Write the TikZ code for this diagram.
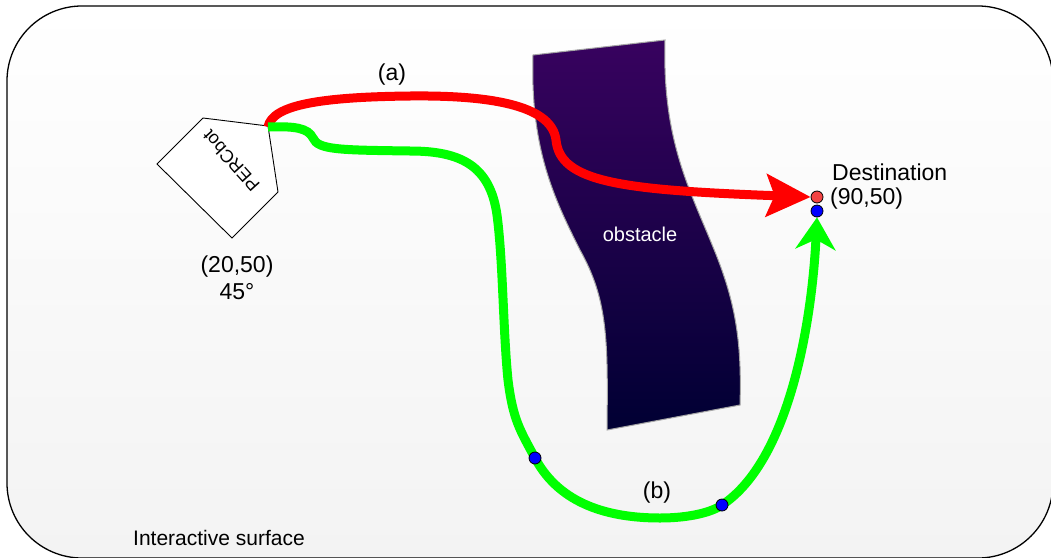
\documentclass[tikz,border=0pt]{standalone}
\usepackage{fontspec}
\setmainfont{Liberation Sans}
\usetikzlibrary{arrows.meta}
\definecolor{obsTop}{HTML}{38025F}
\definecolor{obsBot}{HTML}{000033}
\definecolor{surfBot}{HTML}{F3F3F3}
\definecolor{dotRed}{HTML}{F24444}
\pgfdeclarelayer{front}
\pgfsetlayers{main,front}
\tikzset{
  lbl/.style={font=\fontsize{23}{27}\selectfont, inner sep=0pt},
  waypt/.style={circle, draw=black, line width=0.8pt, minimum size=12pt, inner sep=0pt},
  trajA/.style={red, line width=9pt, -{Stealth[length=44pt,width=42pt,inset=8pt]}},
  trajB/.style={green, line width=9pt, -{Stealth[length=32pt,width=40pt,inset=10pt]}},
}
\begin{document}
\begin{tikzpicture}[x=1pt, y=-1pt]
  \useasboundingbox (0,0) rectangle (1051,557);
  % Surface
  \shadedraw[top color=white, bottom color=surfBot, draw=black, line width=1.3pt, rounded corners=75pt] (7,6) rectangle (1053,558);
  \node[lbl, font=\fontsize{21}{25}\selectfont, anchor=west] (surface) at (133,538) {Interactive surface};

  % Obstacle
  \shadedraw[top color=obsTop, bottom color=obsBot, draw=gray!70, line width=1pt]
    (533,55) -- (665,40) .. controls (662,140) and (690,190) .. (713,247)
    .. controls (735,300) and (742,340) .. (740,405) -- (607,430)
    .. controls (608,340) and (608,300) .. (580,250)
    .. controls (555,200) and (530,150) .. (533,55) -- cycle;
  \node[lbl, font=\fontsize{20}{24}\selectfont, white] (obs) at (640,234) {obstacle};

  % Robot
  \draw[black, line width=0.9pt, fill=white] (203,118) -- (268,126) -- (278,192) -- (232,238) -- (157,164) -- cycle;
  \coordinate (bot) at (268,127);
  \node[lbl, font=\fontsize{18}{22}\selectfont, rotate=132] (botName) at (231,161) {PERCbot};
  \node[lbl] (botPos) at (237,267) {(20,50)};
  \node[lbl] (botAng) at (237,292) {45°};

  % Dots
  \begin{pgfonlayer}{front}
    \node[waypt, fill=dotRed] (dstA) at (817,197) {};
    \node[waypt, fill=blue] (dstB) at (817,211) {};
    \node[waypt, fill=blue] (wpOne) at (535,458) {};
    \node[waypt, fill=blue] (wpTwo) at (722,505) {};
  \end{pgfonlayer}
  \node[lbl, anchor=west] (dstName) at (832,172) {Destination};
  \node[lbl, anchor=west] (dstPos) at (830,199) {(90,50)};

  % Path (a)
  \draw[trajA] (bot) .. controls (272,105) and (320,97) .. (410,96)
    .. controls (500,95) and (552,108) .. (556,140)
    .. controls (560,182) and (620,190) .. (dstA.west);
  \node[lbl] (labA) at (392,75) {(a)};

  % Path (b)
  \draw[trajB] (bot) .. controls (295,126) and (308,128) .. (313,138)
    .. controls (318,150) and (340,150) .. (410,151)
    .. controls (460,151) and (490,165) .. (497,215)
    .. controls (503,260) and (503,330) .. (508,380)
    .. controls (513,420) and (520,430) .. (wpOne.center)
    .. controls (560,505) and (610,518) .. (660,518)
    .. controls (690,518) and (712,512) .. (wpTwo.center)
    .. controls (790,460) and (812,320) .. (dstB.south);
  \node[lbl] (labB) at (657,493) {(b)};
\end{tikzpicture}
\end{document}
